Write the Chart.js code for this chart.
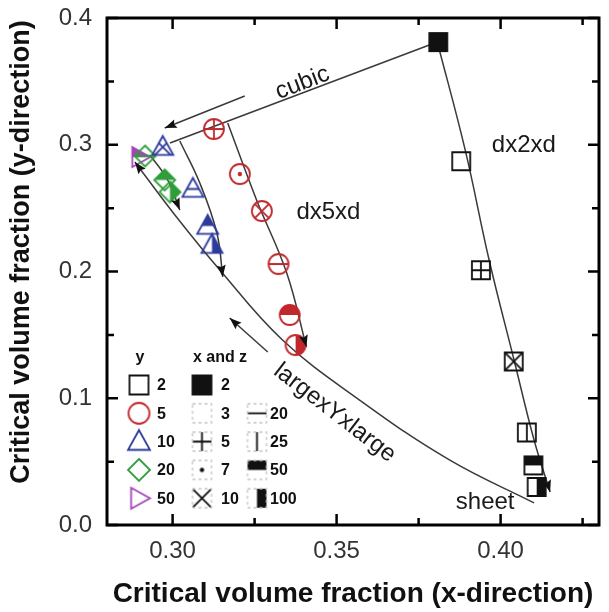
<!DOCTYPE html>
<html>
<head>
<meta charset="utf-8">
<script src="https://cdn.jsdelivr.net/npm/chart.js@4.4.0/dist/chart.umd.min.js"></script>
<style>
  html, body { margin: 0; padding: 0; background: #fff; }
</style>
</head>
<body>
<canvas id="myChart" width="609" height="612"></canvas>
<script>
// axis ticks
const xTicks = [0.30, 0.35, 0.40];
const xMinor = [0.325, 0.375, 0.425];
const yTicks = [0.0, 0.1, 0.2, 0.3, 0.4];
const yMinor = [0.05, 0.15, 0.25, 0.35];

// markers: y = 2 (squares)
const y2X  = [0.381, 0.388, 0.394, 0.404, 0.408, 0.410, 0.411];
const y2Y  = [0.381, 0.287, 0.201, 0.129, 0.073, 0.047, 0.030];
const y2XZ = [2, 3, 5, 10, 25, 50, 100];
// y = 5 (circles)
const y5X  = [0.3126, 0.3205, 0.3272, 0.3323, 0.3357, 0.3375];
const y5Y  = [0.3124, 0.2769, 0.2477, 0.2059, 0.1657, 0.142];
const y5XZ = [5, 7, 10, 20, 50, 100];
// y = 10 (triangles)
const y10X  = [0.297, 0.3062, 0.3107, 0.312];
const y10Y  = [0.2982, 0.2651, 0.2359, 0.2209];
const y10XZ = [10, 20, 50, 100];
// y = 20 (diamonds)
const y20X  = [0.2916, 0.2976, 0.2992];
const y20Y  = [0.2911, 0.2722, 0.2627];
const y20XZ = [20, 50, 100];
// y = 50 (right triangles)
const y50X  = [0.290];
const y50Y  = [0.2903];
const y50XZ = [50];

// guide curves
const cubicX = [0.3807, 0.2992];
const cubicY = [0.3811, 0.3014];
const dx2X = [0.3807, 0.3892, 0.3965, 0.4041, 0.4102, 0.4151];
const dx2Y = [0.3811, 0.2959, 0.2091, 0.1302, 0.0671, 0.026];
const dx5X = [0.3168, 0.3256, 0.3348, 0.3408];
const dx5Y = [0.3172, 0.2564, 0.1988, 0.1404];
const y10CurveX = [0.3022, 0.3083, 0.3135, 0.3153];
const y10CurveY = [0.303, 0.2698, 0.2304, 0.1957];
const y20CurveX = [0.2931, 0.2985, 0.3022];
const y20CurveY = [0.2919, 0.2722, 0.2485];
const largeX = [0.2885, 0.3007, 0.3144, 0.3335, 0.357, 0.3844, 0.4102];
const largeY = [0.2864, 0.2446, 0.2012, 0.146, 0.0986, 0.0513, 0.0174];
// annotation arrows
const cubicArrowX = [0.322, 0.2976];
const cubicArrowY = [0.3385, 0.3132];
const largeArrowX = [0.329, 0.3174];
const largeArrowY = [0.1365, 0.1633];

// text labels
const labelText = ['cubic', 'dx2xd', 'dx5xd', 'largexYxlarge', 'sheet'];
const labelX = [0.3396, 0.4071, 0.3475, 0.3494, 0.3953];
const labelY = [0.3487, 0.2998, 0.247, 0.0884, 0.018];
const labelAngle = [-21, 0, 0, 37.5, 0];

// legend
const legendY = [2, 5, 10, 20, 50];
const legendXZ = [2, 3, 5, 7, 10, 20, 25, 50, 100];

const RED = '#c0282d', BLUE = '#2d3b9c', GREEN = '#2f9e3a', PURPLE = '#a545b8', BLACK = '#111';
const yShape = { 2: ['square', BLACK], 5: ['circle', RED], 10: ['triangle', BLUE], 20: ['diamond', GREEN], 50: ['rtriangle', PURPLE] };
const shapeSize = { square: 9, circle: 10, triangle: 10.5, diamond: 10.5, rtriangle: 10 };

Chart.defaults.font.family = "'Liberation Sans', Arial, sans-serif";

function shapePath(g, shape, r) {
  g.beginPath();
  if (shape === 'square') {
    g.rect(-r, -r, 2 * r, 2 * r);
  } else if (shape === 'circle') {
    g.arc(0, 0, r, 0, Math.PI * 2);
  } else if (shape === 'triangle') {
    g.moveTo(0, -r * 1.05); g.lineTo(r * 1.0, r * 0.75); g.lineTo(-r * 1.0, r * 0.75); g.closePath();
  } else if (shape === 'diamond') {
    g.moveTo(0, -r); g.lineTo(r, 0); g.lineTo(0, r); g.lineTo(-r, 0); g.closePath();
  } else if (shape === 'rtriangle') {
    g.moveTo(r * 1.05, 0); g.lineTo(-r * 0.75, -r); g.lineTo(-r * 0.75, r); g.closePath();
  }
}

function drawPattern(g, code, r, color) {
  g.fillStyle = color;
  g.strokeStyle = color;
  g.lineWidth = 1.8;
  const e = r + 3;
  if (code === 2) {
    g.fillRect(-e, -e, 2 * e, 2 * e);
  } else if (code === 5) {
    g.beginPath(); g.moveTo(-e, 0); g.lineTo(e, 0); g.moveTo(0, -e); g.lineTo(0, e); g.stroke();
  } else if (code === 7) {
    g.beginPath(); g.arc(0, 0, 2.2, 0, Math.PI * 2); g.fill();
  } else if (code === 10) {
    g.beginPath(); g.moveTo(-e, -e); g.lineTo(e, e); g.moveTo(e, -e); g.lineTo(-e, e); g.stroke();
  } else if (code === 20) {
    g.beginPath(); g.moveTo(-e, 0); g.lineTo(e, 0); g.stroke();
  } else if (code === 25) {
    g.beginPath(); g.moveTo(0, -e); g.lineTo(0, e); g.stroke();
  } else if (code === 50) {
    g.fillRect(-e, -e, 2 * e, e);
  } else if (code === 100) {
    g.fillRect(0, -e, e, 2 * e);
  }
}

function makeMarker(shape, code, color, r, dashed) {
  const c = document.createElement('canvas');
  const sz = Math.ceil(2 * r + 8);
  c.width = sz; c.height = sz;
  const g = c.getContext('2d');
  g.translate(sz / 2, sz / 2);
  g.save();
  shapePath(g, shape, r);
  g.clip();
  drawPattern(g, code, dashed ? r - 1 : r, dashed ? BLACK : color);
  g.restore();
  shapePath(g, shape, r);
  if (dashed && code !== 2) {
    g.setLineDash([3, 3]);
    g.strokeStyle = '#c4c4c4';
    g.lineWidth = 1.3;
  } else {
    g.strokeStyle = dashed ? BLACK : color;
    g.lineWidth = 1.8;
  }
  g.stroke();
  return c;
}

function markerSet(xs, ys, codes, yval) {
  const [shape, color] = yShape[yval];
  return {
    data: xs.map((x, i) => ({ x: x, y: ys[i] })),
    pointStyle: codes.map(cd => makeMarker(shape, cd, color, shapeSize[shape], false)),
    pointRadius: 9,
    order: 0
  };
}

function curveSet(xs, ys, tension, arrow) {
  return {
    data: xs.map((x, i) => ({ x: x, y: ys[i] })),
    showLine: true,
    borderColor: '#3a3a3a',
    borderWidth: 1.5,
    pointRadius: 0,
    tension: tension,
    order: 1,
    arrow: arrow
  };
}

function arrowHead(ctx, tip, from) {
  const ang = Math.atan2(tip.y - from.y, tip.x - from.x);
  const L = 12, W = 4.5;
  ctx.save();
  ctx.translate(tip.x, tip.y);
  ctx.rotate(ang);
  ctx.fillStyle = '#111';
  ctx.beginPath();
  ctx.moveTo(0, 0); ctx.lineTo(-L, -W); ctx.lineTo(-L + 2, 0); ctx.lineTo(-L, W); ctx.closePath();
  ctx.fill();
  ctx.restore();
}

function noPad(s) {
  s.paddingTop = 0; s.paddingBottom = 0; s.paddingLeft = 0; s.paddingRight = 0;
}

const decorations = {
  id: 'decorations',
  afterDatasetsDraw(chart) {
    const { ctx, scales: { x, y } } = chart;

    // arrowheads
    chart.data.datasets.forEach((ds, i) => {
      if (!ds.arrow) return;
      const pts = chart.getDatasetMeta(i).data;
      const n = pts.length;
      if (ds.arrow === 'end') {
        const last = pts[n - 1], prev = pts[n - 2];
        const from = (last.cp1x !== undefined && (Math.abs(last.cp1x - last.x) + Math.abs(last.cp1y - last.y)) > 0.5) ? { x: last.cp1x, y: last.cp1y } : prev;
        arrowHead(ctx, last, from);
      } else {
        const first = pts[0], next = pts[1];
        const from = (first.cp2x !== undefined && (Math.abs(first.cp2x - first.x) + Math.abs(first.cp2y - first.y)) > 0.5) ? { x: first.cp2x, y: first.cp2y } : next;
        arrowHead(ctx, first, from);
      }
    });

    // text labels
    ctx.save();
    ctx.fillStyle = '#1a1a1a';
    ctx.font = "24px 'Liberation Sans', Arial, sans-serif";
    ctx.textAlign = 'center';
    ctx.textBaseline = 'middle';
    labelText.forEach((t, i) => {
      ctx.save();
      ctx.translate(x.getPixelForValue(labelX[i]), y.getPixelForValue(labelY[i]));
      ctx.rotate(labelAngle[i] * Math.PI / 180);
      ctx.fillText(t, 0, 0);
      ctx.restore();
    });
    ctx.restore();
  },
  afterDraw(chart) {
    const { ctx, chartArea: a, scales: { x, y } } = chart;
    ctx.save();
    // frame
    ctx.strokeStyle = '#000';
    ctx.lineWidth = 3;
    ctx.strokeRect(a.left, a.top, a.right - a.left, a.bottom - a.top);
    // inward ticks on all sides
    ctx.lineWidth = 2.5;
    ctx.beginPath();
    const tick = (vals, len) => {
      vals.forEach(v => {
        const px = x.getPixelForValue(v);
        ctx.moveTo(px, a.bottom); ctx.lineTo(px, a.bottom - len);
        ctx.moveTo(px, a.top); ctx.lineTo(px, a.top + len);
      });
    };
    const ytick = (vals, len) => {
      vals.forEach(v => {
        const py = y.getPixelForValue(v);
        ctx.moveTo(a.left, py); ctx.lineTo(a.left + len, py);
        ctx.moveTo(a.right, py); ctx.lineTo(a.right - len, py);
      });
    };
    tick(xTicks, 11); tick(xMinor, 7);
    ytick(yTicks, 11); ytick(yMinor, 7);
    ctx.stroke();

    // y-axis title
    ctx.fillStyle = '#111';
    ctx.font = "bold 27px 'Liberation Sans', Arial, sans-serif";
    ctx.textAlign = 'center';
    ctx.textBaseline = 'middle';
    ctx.save();
    ctx.translate(22, 252);
    ctx.rotate(-Math.PI / 2);
    ctx.fillText('Critical volume fraction (y-direction)', 0, 0);
    ctx.restore();

    // legend
    ctx.font = "bold 16px 'Liberation Sans', Arial, sans-serif";
    ctx.textAlign = 'center';
    ctx.fillText('y', 140, 358);
    ctx.fillText('x and z', 220, 358);
    ctx.textAlign = 'left';
    const row0 = 385, step = 28.3;
    legendY.forEach((v, i) => {
      const [shape, color] = yShape[v];
      const m = makeMarker(shape, 3, color, shapeSize[shape] + 0.5, false);
      const cy = row0 + i * step;
      ctx.drawImage(m, 139 - m.width / 2, cy - m.height / 2);
      ctx.fillText(String(v), 157, cy + 1);
    });
    legendXZ.forEach((v, i) => {
      const col = i < 5 ? 0 : 1;
      const row = i < 5 ? i : i - 4;
      const sx = col === 0 ? 202 : 257;
      const lx = col === 0 ? 221 : 270;
      const cy = row0 + row * step;
      const m = makeMarker('square', v, BLACK, 9.5, true);
      ctx.drawImage(m, sx - m.width / 2, cy - m.height / 2);
      ctx.fillText(String(v), lx, cy + 1);
    });
    ctx.restore();
  }
};

const ctx = document.getElementById('myChart').getContext('2d');
const myChart = new Chart(ctx, {
  type: 'scatter',
  data: {
    datasets: [
      markerSet(y2X, y2Y, y2XZ, 2),
      markerSet(y5X, y5Y, y5XZ, 5),
      markerSet(y10X, y10Y, y10XZ, 10),
      markerSet(y20X, y20Y, y20XZ, 20),
      markerSet(y50X, y50Y, y50XZ, 50),
      curveSet(cubicX, cubicY, 0, null),
      curveSet(dx2X, dx2Y, 0.4, 'end'),
      curveSet(dx5X, dx5Y, 0.4, 'end'),
      curveSet(y10CurveX, y10CurveY, 0.4, 'end'),
      curveSet(y20CurveX, y20CurveY, 0.4, 'end'),
      curveSet(largeX, largeY, 0.4, 'start'),
      curveSet(cubicArrowX, cubicArrowY, 0, 'end'),
      curveSet(largeArrowX, largeArrowY, 0, 'end')
    ]
  },
  options: {
    responsive: false,
    animation: false,
    events: [],
    layout: { padding: { left: 0, right: 9, top: 18, bottom: 0 } },
    scales: {
      x: {
        type: 'linear',
        min: 0.28,
        max: 0.43,
        afterBuildTicks: s => { s.ticks = xTicks.map(v => ({ value: v })); },
        afterFit: s => { s.height = 87; noPad(s); },
        grid: { display: false, drawTicks: false },
        border: { display: false },
        ticks: {
          color: '#333',
          font: { size: 24 },
          padding: 12,
          maxRotation: 0,
          autoSkip: false,
          callback: v => v.toFixed(2)
        },
        title: {
          display: true,
          text: 'Critical volume fraction (x-direction)',
          color: '#111',
          font: { size: 28, weight: 'bold' },
          padding: { top: 0, bottom: 1 }
        }
      },
      y: {
        type: 'linear',
        min: 0,
        max: 0.4,
        afterBuildTicks: s => { s.ticks = yTicks.map(v => ({ value: v })); },
        afterFit: s => { s.width = 107; noPad(s); },
        grid: { display: false, drawTicks: false },
        border: { display: false },
        ticks: {
          color: '#333',
          font: { size: 24 },
          padding: 15,
          autoSkip: false,
          callback: v => v.toFixed(1)
        }
      }
    },
    plugins: {
      legend: { display: false },
      tooltip: { enabled: false }
    }
  },
  plugins: [decorations]
});
</script>
</body>
</html>
